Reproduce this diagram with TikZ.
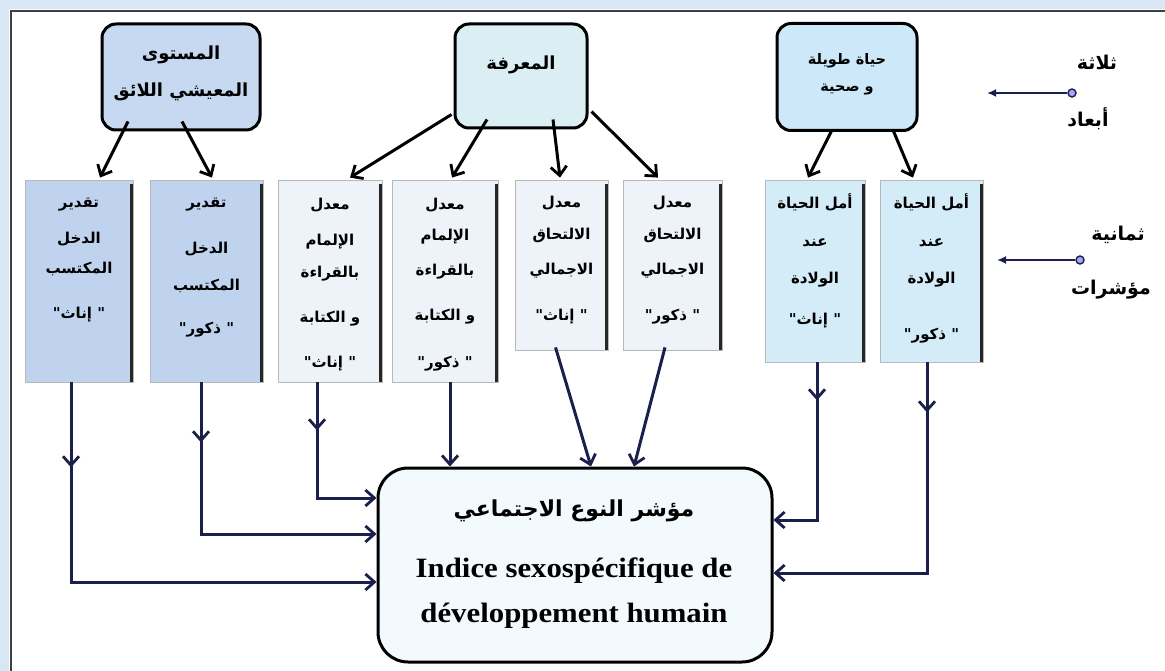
\documentclass[tikz,border=0pt]{standalone}
\usepackage{fontspec}
\setmainfont{Liberation Serif}
\newfontfamily\arabicfont[Script=Arabic]{DejaVu Sans}
\newfontfamily\latinwide[FakeStretch=1.1]{Liberation Serif}
\TeXXeTstate=1
\usetikzlibrary{arrows.meta,decorations.markings}
\newcommand{\rl}[1]{\beginR #1\endR}

\definecolor{navyline}{HTML}{1A1F4B}
\definecolor{frameblue}{HTML}{D9E6F4}
\definecolor{framegray}{HTML}{3A4048}
\definecolor{fillA}{HTML}{C6D9F1}
\definecolor{fillB}{HTML}{DBEEF4}
\definecolor{fillC}{HTML}{CDE8F8}
\definecolor{fillInc}{HTML}{BFD3EF}
\definecolor{fillEdu}{HTML}{EEF3FA}
\definecolor{fillLife}{HTML}{D3ECF8}
\definecolor{fillMain}{HTML}{F3FAFD}

\tikzset{
  topbox/.style={draw=black, line width=3pt, rounded corners=14pt, inner sep=0pt},
  indbox/.style={draw=black!28, line width=0.8pt, inner sep=0pt},
  mainbox/.style={draw=black, line width=3pt, rounded corners=30pt, inner sep=0pt, fill=fillMain},
  rightshade/.style={line width=3.2pt, draw=black!85},
  toptext/.style={font=\arabicfont\bfseries\fontsize{18}{37}\selectfont, align=center, inner sep=0pt},
  lifetext/.style={font=\arabicfont\bfseries\fontsize{14.5}{27}\selectfont, align=center, inner sep=0pt},
  indtext/.style={font=\arabicfont\bfseries\fontsize{15}{30}\selectfont, align=center, anchor=north, inner sep=0pt},
  sidetext/.style={font=\arabicfont\bfseries\fontsize{19}{24}\selectfont, inner sep=0pt},
  downarrow/.style={draw=black, line width=3pt, -{Straight Barb[length=9pt,width=16pt,line width=2.8pt]}},
  feedline/.style={draw=navyline, line width=3pt, -{Straight Barb[length=9pt,width=16pt,line width=2.8pt]}},
  midarrow/.style={postaction={decorate}, decoration={markings, mark=at position #1 with {\arrow[navyline]{Straight Barb[length=9pt,width=16pt,line width=2.8pt]}}}},
  bulletdot/.style={circle, draw=navyline, fill=blue!35!white, line width=1.4pt, inner sep=0pt, minimum size=8pt},
  bulletarrow/.style={draw=navyline, line width=2.4pt, -{Latex[length=9pt,width=8pt]}},
}

\begin{document}
\begin{tikzpicture}[x=1pt, y=-1pt]
\useasboundingbox (0,0) rectangle (1165,671);
\fill[white] (0,0) rectangle (1165,671);

% window frame along top and left
\fill[frameblue] (0,0) rectangle (1165,9);
\fill[frameblue] (0,0) rectangle (9,671);
\draw[framegray, line width=2pt] (11,671) -- (11,11) -- (1165,11);

% three dimensions
\node[topbox, fill=fillA, minimum width=158pt, minimum height=106pt] (A) at (181,77) {};
\node[topbox, fill=fillB, minimum width=132pt, minimum height=104pt] (B) at (521,76) {};
\node[topbox, fill=fillC, minimum width=140pt, minimum height=107pt] (C) at (847,77) {};
\node[toptext] (tA) at (181,73) {\rl{المستوى}\\\rl{المعيشي اللائق}};
\node[toptext] (tB) at (521,65) {\rl{المعرفة}};
\node[lifetext] (tC) at (847,74) {\rl{حياة طويلة}\\\rl{و صحية}};

% eight indicators
\node[indbox, fill=fillInc, minimum width=108pt, minimum height=202pt] (b1) at (79,281) {};
\node[indbox, fill=fillInc, minimum width=113pt, minimum height=202pt] (b2) at (206.5,281) {};
\node[indbox, fill=fillEdu, minimum width=104pt, minimum height=202pt] (b3) at (330,281) {};
\node[indbox, fill=fillEdu, minimum width=106pt, minimum height=202pt] (b4) at (445,281) {};
\node[indbox, fill=fillEdu, minimum width=93pt, minimum height=170pt] (b5) at (561.5,265) {};
\node[indbox, fill=fillEdu, minimum width=99pt, minimum height=170pt] (b6) at (672.5,265) {};
\node[indbox, fill=fillLife, minimum width=100pt, minimum height=182pt] (b7) at (815,271) {};
\node[indbox, fill=fillLife, minimum width=103pt, minimum height=182pt] (b8) at (931.5,271) {};
\foreach \b in {b1,b2,b3,b4,b5,b6,b7,b8}
  \draw[rightshade] ([xshift=-2pt,yshift=-4pt]\b.north east) -- ([xshift=-2pt]\b.south east);

\node[indtext] (t1) at (79,198) {\rl{تقدير}\\[6pt]\rl{الدخل}\\[0pt]\rl{المكتسب}\\[15pt]\rl{" إناث"}};
\node[indtext] (t2) at (206.5,198) {\rl{تقدير}\\[16pt]\rl{الدخل}\\[7pt]\rl{المكتسب}\\[13pt]\rl{" ذكور"}};
\node[indtext] (t3) at (330,198) {\rl{معدل}\\[6pt]\rl{الإلمام}\\[2pt]\rl{بالقراءة}\\[15pt]\rl{و الكتابة}\\[15pt]\rl{" إناث"}};
\node[indtext] (t4) at (445,198) {\rl{معدل}\\[1pt]\rl{الإلمام}\\[5pt]\rl{بالقراءة}\\[15pt]\rl{و الكتابة}\\[17pt]\rl{" ذكور"}};
\node[indtext] (t5) at (561.5,196) {\rl{معدل}\\[2pt]\rl{الالتحاق}\\[5pt]\rl{الاجمالي}\\[16pt]\rl{" إناث"}};
\node[indtext] (t6) at (672.5,196) {\rl{معدل}\\[2pt]\rl{الالتحاق}\\[5pt]\rl{الاجمالي}\\[16pt]\rl{" ذكور"}};
\node[indtext] (t7) at (815,193) {\rl{أمل الحياة}\\[8pt]\rl{عند}\\[7pt]\rl{الولادة}\\[11pt]\rl{" إناث"}};
\node[indtext] (t8) at (931.5,193) {\rl{أمل الحياة}\\[8pt]\rl{عند}\\[7pt]\rl{الولادة}\\[26pt]\rl{" ذكور"}};

% composite index
\node[mainbox, minimum width=394pt, minimum height=194pt] (bot) at (575,565) {};
\node[font=\arabicfont\bfseries\fontsize{22}{26}\selectfont, inner sep=0pt] (tbotar) at (574,511) {\rl{مؤشر النوع الاجتماعي}};
\node[font=\latinwide\bfseries\fontsize{28}{45}\selectfont, align=center, inner sep=0pt] (tbotfr) at (574,593) {Indice sexospécifique de\\développement humain};

% dimensions to indicators
\draw[downarrow] ([xshift=-53pt,yshift=10pt]A.south) -- ([xshift=21pt,yshift=2pt]b1.north);
\draw[downarrow] ([xshift=1pt,yshift=10pt]A.south) -- ([xshift=5.5pt,yshift=2pt]b2.north);
\draw[downarrow] ([xshift=-2pt,yshift=15pt]B.south west) -- ([xshift=20pt,yshift=2pt]b3.north);
\draw[downarrow] ([xshift=-34pt,yshift=10pt]B.south) -- ([xshift=7pt,yshift=2pt]b4.north);
\draw[downarrow] ([xshift=32pt,yshift=10pt]B.south) -- ([xshift=-1.5pt,yshift=2pt]b5.north);
\draw[downarrow] ([xshift=3pt,yshift=18pt]B.south east) -- ([xshift=-14.5pt,yshift=2pt]b6.north);
\draw[downarrow] ([xshift=-15pt,yshift=2pt]C.south) -- ([xshift=-7pt,yshift=2pt]b7.north);
\draw[downarrow] ([xshift=46pt,yshift=2pt]C.south) -- ([xshift=-18.5pt,yshift=2pt]b8.north);

% indicators to composite index
\coordinate (h1) at (0,582);
\coordinate (h2) at (0,534);
\coordinate (h3) at (0,498);
\coordinate (h7) at (0,520);
\coordinate (h8) at (0,573);
\draw[feedline, midarrow=85pt] ([xshift=-8pt]b1.south) |- (bot.west |- h1);
\draw[feedline, midarrow=60pt] ([xshift=-5.5pt]b2.south) |- (bot.west |- h2);
\draw[feedline, midarrow=48pt] ([xshift=-13pt]b3.south) |- (bot.west |- h3);
\draw[feedline] ([xshift=5pt]b4.south) -- ([xshift=-125pt]bot.north);
\draw[feedline] ([xshift=-6pt,yshift=3pt]b5.south) -- ([xshift=16pt]bot.north);
\draw[feedline] ([xshift=-7.5pt,yshift=3pt]b6.south) -- ([xshift=59pt]bot.north);
\draw[feedline, midarrow=38pt] ([xshift=2pt]b7.south) |- (bot.east |- h7);
\draw[feedline, midarrow=50pt] ([xshift=-4.5pt]b8.south) |- (bot.east |- h8);

% side captions
\node[sidetext] (s1) at (1097,62) {\rl{ثلاثة}};
\node[sidetext] (s2) at (1088,119) {\rl{أبعاد}};
\node[bulletdot] (d1) at (1072,93) {};
\coordinate (a1) at (987,93);
\draw[bulletarrow] (d1) -- (a1);
\node[sidetext] (s3) at (1118,235) {\rl{ثمانية}};
\node[sidetext] (s4) at (1111,290) {\rl{مؤشرات}};
\node[bulletdot] (d2) at (1080,260) {};
\coordinate (a2) at (997,260);
\draw[bulletarrow] (d2) -- (a2);
\end{tikzpicture}
\end{document}
